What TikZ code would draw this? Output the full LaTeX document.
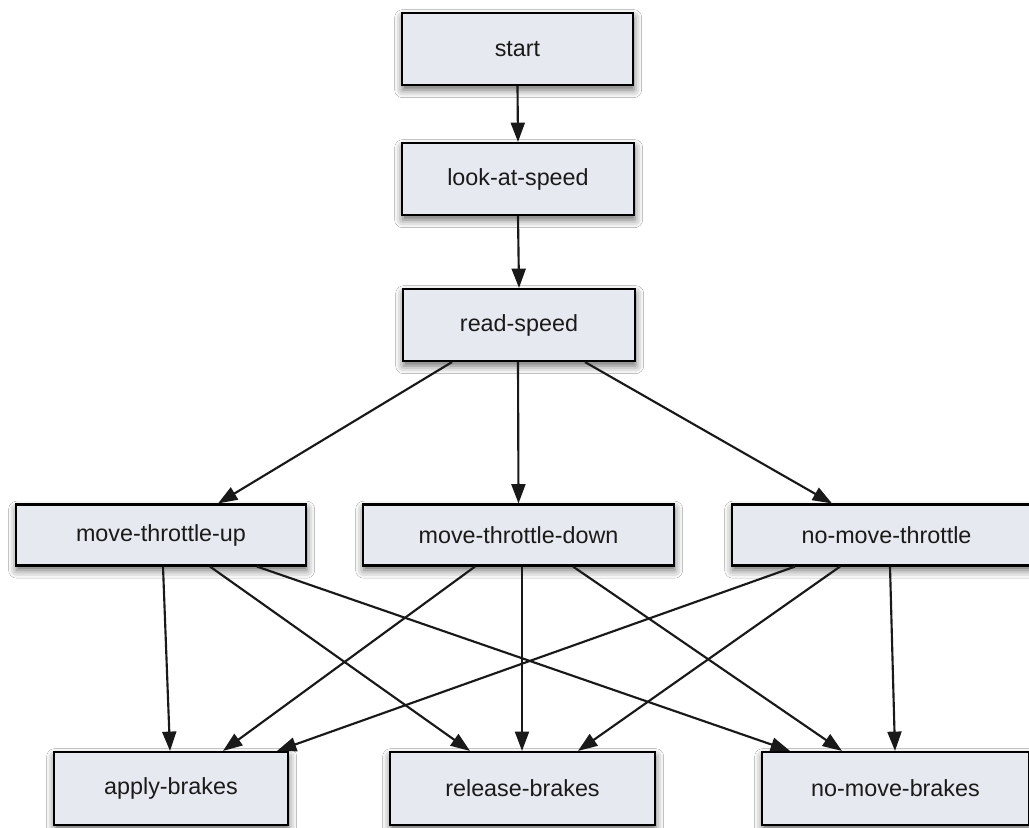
\documentclass[tikz,border=0pt]{standalone}
\usepackage{fontspec}
\setmainfont{Liberation Sans}
\usetikzlibrary{arrows.meta,calc,shadows.blur}

\definecolor{boxfill}{HTML}{E6E9F0}
\definecolor{boxtext}{HTML}{1A1A1A}

\tikzset{
  state/.style={rectangle, draw=black, line width=1.6pt, fill=boxfill,
    text=boxtext, inner sep=0pt, minimum height=54pt,
    font=\fontsize{17.5}{21}\selectfont,
    blur shadow={shadow xshift=0.5pt, shadow yshift=-3.5pt,
                 shadow blur radius=6pt, shadow opacity=60}},
  midstate/.style={state, minimum height=45.75pt},
  flow/.style={draw=black!90, line width=1.6pt,
    -{Triangle[length=14.5pt,width=10.5pt]}}
}

\begin{document}
\begin{tikzpicture}[x=0.75pt, y=-0.75pt]
  \useasboundingbox (0,0) rectangle (1029,828);
  \clip (0,0) rectangle (1029,828);
  \fill[white] (0,0) rectangle (1029,828);

  % top chain
  \node[state, minimum width=173.25pt] (start) at (517.5,49)  {start};
  \node[state, minimum width=174pt]    (look)  at (518,179)   {look-at-speed};
  \node[state, minimum width=174pt]    (read)  at (519,325)   {read-speed};

  % throttle decisions
  \node[midstate, minimum width=217.5pt]  (mtu) at (161,535)   {move-throttle-up};
  \node[midstate, minimum width=233.25pt] (mtd) at (518.5,535) {move-throttle-down};
  \node[midstate, minimum width=231.75pt] (nmt) at (886.5,535) {no-move-throttle};

  % brake actions
  \node[state, minimum width=175.5pt,  minimum height=54.75pt] (apply)   at (171,788.5)   {apply-brakes};
  \node[state, minimum width=198.75pt, minimum height=54.75pt] (release) at (522.5,788.5) {release-brakes};
  \node[state, minimum width=200.25pt, minimum height=54.75pt] (nmb)     at (895.5,788.5) {no-move-brakes};

  % connectors
  \draw[flow] (start.south) -- (look.north);
  \draw[flow] (look.south) -- (read.north);

  \draw[flow] ($(read.south)+(-67,0)$) -- ($(mtu.north)+(57,0)$);
  \draw[flow] ($(read.south)+(-1,0)$)  -- (mtd.north);
  \draw[flow] ($(read.south)+(66,0)$)  -- ($(nmt.north)+(-54.5,0)$);

  \draw[flow] ($(mtu.south)+(2,0)$)  -- ($(apply.north)+(-1,0)$);
  \draw[flow] ($(mtu.south)+(49,0)$) -- ($(release.north)+(-52.5,0)$);
  \draw[flow] ($(mtu.south)+(96,0)$) -- ($(nmb.north)+(-105.5,0)$);

  \draw[flow] ($(mtd.south)+(-43.5,0)$) -- ($(apply.north)+(52,0)$);
  \draw[flow] ($(mtd.south)+(3.5,0)$)   -- ($(release.north)+(-0.5,0)$);
  \draw[flow] ($(mtd.south)+(54.5,0)$)  -- ($(nmb.north)+(-53.5,0)$);

  \draw[flow] ($(nmt.south)+(-91.5,0)$) -- ($(apply.north)+(106,0)$);
  \draw[flow] ($(nmt.south)+(-46.5,0)$) -- ($(release.north)+(55.5,0)$);
  \draw[flow] ($(nmt.south)+(3.5,0)$)   -- ($(nmb.north)+(-0.5,0)$);
\end{tikzpicture}
\end{document}
